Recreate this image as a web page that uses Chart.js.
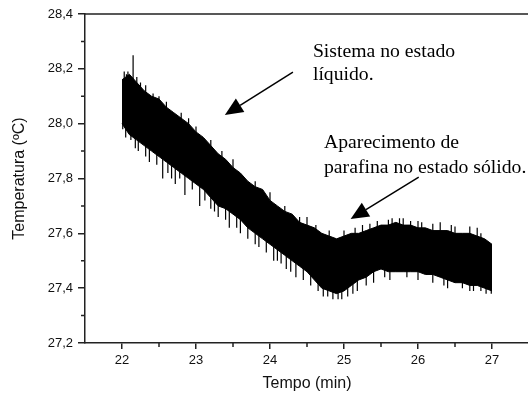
<!DOCTYPE html>
<html>
<head>
<meta charset="utf-8">
<script src="https://cdn.jsdelivr.net/npm/chart.js@4.4.1/dist/chart.umd.min.js"></script>
<style>
    html, body { margin: 0; padding: 0; background: #fff; overflow: hidden; }
    #wrap { width: 540px; height: 393px; }
</style>
</head>
<body>
<div id="wrap"><canvas id="temperatura_chart"></canvas></div>
<script>
// 時間 (min)
const tempo = [
    22.0, 22.1, 22.2, 22.3, 22.4, 22.5, 22.6, 22.7, 22.8, 22.9,
    23.0, 23.1, 23.2, 23.3, 23.4, 23.5, 23.6, 23.7, 23.8, 23.9,
    24.0, 24.1, 24.2, 24.3, 24.4, 24.5, 24.6, 24.7, 24.8, 24.9,
    25.0, 25.1, 25.2, 25.3, 25.4, 25.5, 25.6, 25.7, 25.8, 25.9,
    26.0, 26.1, 26.2, 26.3, 26.4, 26.5, 26.6, 26.7, 26.8, 26.9,
    27.0
];
// 温度の上側の包絡線
const temp_superior = [
    28.16, 28.18, 28.15, 28.12, 28.10, 28.09, 28.06, 28.04, 28.02, 28.00,
    27.97, 27.95, 27.92, 27.89, 27.87, 27.84, 27.82, 27.79, 27.77, 27.76,
    27.72, 27.70, 27.68, 27.67, 27.64, 27.63, 27.62, 27.60, 27.59, 27.58,
    27.59, 27.60, 27.60, 27.61, 27.62, 27.63, 27.63, 27.64, 27.63, 27.63,
    27.62, 27.62, 27.61, 27.61, 27.61, 27.60, 27.60, 27.60, 27.59, 27.58,
    27.56
];
// 温度の下側の包絡線
const temp_inferior = [
    28.00, 27.96, 27.94, 27.92, 27.90, 27.88, 27.86, 27.84, 27.82, 27.80,
    27.78, 27.76, 27.73, 27.70, 27.69, 27.67, 27.65, 27.62, 27.60, 27.58,
    27.56, 27.54, 27.52, 27.50, 27.48, 27.46, 27.43, 27.40, 27.39, 27.38,
    27.39, 27.41, 27.43, 27.44, 27.46, 27.47, 27.46, 27.46, 27.46, 27.46,
    27.46, 27.45, 27.45, 27.44, 27.43, 27.42, 27.42, 27.41, 27.41, 27.40,
    27.39
];
// スパイク [時間, 下端, 上端]
const picos = [
    [22.01, 27.98, 28.10], [22.03, 28.05, 28.19], [22.08, 28.05, 28.19],
    [22.12, 27.94, 28.05], [22.15, 28.05, 28.25], [22.25, 28.05, 28.15],
    [22.42, 28.00, 28.11], [22.55, 27.80, 27.95], [22.72, 27.78, 27.90],
    [22.85, 27.74, 27.90], [22.90, 27.90, 28.02], [23.05, 27.70, 27.85],
    [23.35, 27.80, 27.90], [23.45, 27.62, 27.75], [23.70, 27.58, 27.70],
    [24.05, 27.50, 27.60], [24.35, 27.44, 27.55], [24.50, 27.55, 27.66],
    [24.65, 27.39, 27.50], [24.85, 27.36, 27.50], [24.92, 27.36, 27.50],
    [25.05, 27.37, 27.50], [25.12, 27.38, 27.50], [25.25, 27.55, 27.63],
    [25.40, 27.42, 27.50], [25.45, 27.55, 27.645], [25.55, 27.44, 27.50],
    [25.60, 27.55, 27.65], [25.75, 27.55, 27.655], [25.90, 27.55, 27.645],
    [26.05, 27.55, 27.64], [26.35, 27.41, 27.50], [26.50, 27.50, 27.625],
    [26.60, 27.40, 27.50], [26.85, 27.39, 27.60], [26.99, 27.38, 27.50],
    // 下側の細かいスパイク
    [22.05, 27.95, 28.05], [22.18, 27.91, 28.00], [22.22, 27.90, 28.00],
    [22.32, 27.88, 27.98], [22.37, 27.86, 27.96], [22.47, 27.85, 27.95],
    [22.62, 27.82, 27.92], [22.67, 27.80, 27.90], [22.78, 27.80, 27.90],
    [22.95, 27.76, 27.86], [23.12, 27.72, 27.82], [23.20, 27.69, 27.79],
    [23.25, 27.68, 27.78], [23.30, 27.66, 27.76], [23.40, 27.65, 27.75],
    [23.55, 27.62, 27.72], [23.60, 27.60, 27.70], [23.80, 27.56, 27.66],
    [23.85, 27.55, 27.65], [23.95, 27.53, 27.63], [24.10, 27.50, 27.60],
    [24.15, 27.49, 27.59], [24.22, 27.47, 27.57], [24.28, 27.46, 27.56],
    [24.45, 27.43, 27.53], [24.55, 27.41, 27.51], [24.72, 27.37, 27.47],
    [24.78, 27.37, 27.47], [24.97, 27.36, 27.46], [25.18, 27.39, 27.49],
    [25.30, 27.41, 27.51], [25.62, 27.43, 27.53], [25.85, 27.44, 27.54],
    [26.00, 27.43, 27.53], [26.20, 27.42, 27.52], [26.40, 27.40, 27.50],
    [26.70, 27.39, 27.49], [26.75, 27.39, 27.49], [26.92, 27.38, 27.48],
    // 上側の細かいスパイク
    [22.06, 28.08, 28.18], [22.20, 28.07, 28.17], [22.32, 28.04, 28.14],
    [22.50, 28.00, 28.10], [22.60, 27.98, 28.08], [22.80, 27.94, 28.04],
    [23.00, 27.89, 27.99], [23.20, 27.84, 27.94], [23.50, 27.77, 27.87],
    [23.80, 27.69, 27.79], [24.00, 27.65, 27.75], [24.20, 27.60, 27.70],
    [24.40, 27.56, 27.66], [24.62, 27.53, 27.63], [24.80, 27.51, 27.61],
    [25.00, 27.51, 27.61], [25.15, 27.52, 27.62], [25.35, 27.535, 27.635],
    [25.65, 27.555, 27.655], [25.80, 27.555, 27.655], [26.00, 27.545, 27.645],
    [26.20, 27.535, 27.635], [26.30, 27.54, 27.64], [26.45, 27.53, 27.63],
    [26.70, 27.525, 27.625], [26.80, 27.52, 27.62]
];
// 目盛り
const y_ticks = [27.2, 27.4, 27.6, 27.8, 28.0, 28.2, 28.4];
const y_minor = [27.3, 27.5, 27.7, 27.9, 28.1, 28.3];
const x_ticks = [22, 23, 24, 25, 26, 27];
const x_minor = [22.5, 23.5, 24.5, 25.5, 26.5];
// 注釈 (データ座標)
const notas = [
    { text: 'Sistema no estado', x: 24.58, y: 28.243 },
    { text: 'líquido.', x: 24.58, y: 28.159 },
    { text: 'Aparecimento de', x: 24.73, y: 27.911 },
    { text: 'parafina no estado sólido.', x: 24.73, y: 27.820 }
];
const setas = [
    { x1: 24.31, y1: 28.188, x2: 23.39, y2: 28.032 },
    { x1: 26.01, y1: 27.805, x2: 25.09, y2: 27.652 }
];

// 上枠・補助目盛り・注釈を描画
const axis_plugin = {
    id: 'axis_plugin',
    afterDraw(chart) {
        const ctx = chart.ctx;
        const xs = chart.scales.x;
        const ys = chart.scales.y;
        const area = chart.chartArea;
        ctx.save();
        ctx.strokeStyle = '#222';
        ctx.lineWidth = 1.5;
        ctx.beginPath();
        ctx.moveTo(area.left, area.top);
        ctx.lineTo(area.right + 2, area.top);
        y_minor.forEach(v => {
            const y = ys.getPixelForValue(v);
            ctx.moveTo(area.left - 4, y);
            ctx.lineTo(area.left, y);
        });
        x_minor.forEach(v => {
            const x = xs.getPixelForValue(v);
            ctx.moveTo(x, area.bottom);
            ctx.lineTo(x, area.bottom + 4);
        });
        ctx.stroke();

        // 注釈テキスト
        ctx.fillStyle = '#000';
        ctx.font = '19.7px "Liberation Serif"';
        ctx.textAlign = 'left';
        ctx.textBaseline = 'alphabetic';
        notas.forEach(n => {
            ctx.fillText(n.text, xs.getPixelForValue(n.x), ys.getPixelForValue(n.y));
        });

        // 矢印
        ctx.strokeStyle = '#000';
        ctx.lineWidth = 1.5;
        setas.forEach(s => {
            const x1 = xs.getPixelForValue(s.x1), y1 = ys.getPixelForValue(s.y1);
            const x2 = xs.getPixelForValue(s.x2), y2 = ys.getPixelForValue(s.y2);
            const ang = Math.atan2(y2 - y1, x2 - x1);
            const len = 18, half = 8;
            const bx = x2 - len * Math.cos(ang), by = y2 - len * Math.sin(ang);
            ctx.beginPath();
            ctx.moveTo(x1, y1);
            ctx.lineTo(bx, by);
            ctx.stroke();
            ctx.beginPath();
            ctx.moveTo(x2, y2);
            ctx.lineTo(bx + half * Math.sin(ang), by - half * Math.cos(ang));
            ctx.lineTo(bx - half * Math.sin(ang), by + half * Math.cos(ang));
            ctx.closePath();
            ctx.fill();
        });
        ctx.restore();
    }
};

// 包絡線のデータを取得
function getEnvelopeDataset(values, fill) {
    let points = [];
    tempo.forEach((t, i) => {
        points.push({ x: t, y: values[i] });
    });
    return {
        data: points,
        borderColor: '#000',
        backgroundColor: '#000',
        borderWidth: 1,
        pointRadius: 0,
        tension: 0,
        fill: fill
    };
}

// スパイクのデータを取得
function getSpikeDataset() {
    let points = [];
    picos.forEach(p => {
        points.push({ x: p[0], y: p[1] });
        points.push({ x: p[0], y: p[2] });
        points.push({ x: p[0], y: null });
    });
    return {
        data: points,
        borderColor: '#000',
        borderWidth: 1.2,
        pointRadius: 0,
        spanGaps: false,
        fill: false
    };
}

// グラフを作成
function createChart() {
    const chart_data = {
        datasets: [
            getEnvelopeDataset(temp_superior, '+1'),
            getEnvelopeDataset(temp_inferior, false),
            getSpikeDataset()
        ]
    };
    const ctx = document.getElementById('temperatura_chart').getContext('2d');
    new Chart(ctx, {
        type: 'line',
        data: chart_data,
        plugins: [axis_plugin],
        options: {
            responsive: true,
            maintainAspectRatio: false,
            animation: false,
            layout: { padding: { top: 14, right: 11, left: 0, bottom: 0 } },
            scales: {
                x: {
                    type: 'linear',
                    min: 21.5,
                    max: 27.5,
                    offset: false,
                    afterBuildTicks: axis => { axis.ticks = x_ticks.map(v => ({ value: v })); },
                    afterFit: axis => { axis.height = 50; },
                    border: { display: true, color: '#222', width: 1.5 },
                    grid: { display: true, drawOnChartArea: false, tickLength: 6, color: '#222', lineWidth: 1.5 },
                    ticks: {
                        padding: 4,
                        color: '#111',
                        font: { family: 'Liberation Sans', size: 13 },
                        maxRotation: 0,
                        callback: v => String(v)
                    },
                    title: {
                        display: true,
                        text: 'Tempo (min)',
                        color: '#111',
                        font: { family: 'Liberation Sans', size: 16 },
                        padding: { top: 0, bottom: 0 }
                    }
                },
                y: {
                    min: 27.2,
                    max: 28.4,
                    afterBuildTicks: axis => { axis.ticks = y_ticks.map(v => ({ value: v })); },
                    afterFit: axis => { axis.width = 85; },
                    border: { display: true, color: '#222', width: 1.5 },
                    grid: { display: true, drawOnChartArea: false, tickLength: 7, color: '#222', lineWidth: 1.5 },
                    ticks: {
                        padding: 5,
                        color: '#111',
                        font: { family: 'Liberation Sans', size: 13 },
                        callback: v => v.toFixed(1).replace('.', ',')
                    },
                    title: {
                        display: true,
                        text: 'Temperatura (ºC)',
                        color: '#111',
                        font: { family: 'Liberation Sans', size: 16 },
                        padding: { top: 10, bottom: 0 }
                    }
                }
            },
            plugins: {
                legend: { display: false },
                tooltip: { enabled: false }
            }
        }
    });
}

createChart();
</script>
</body>
</html>
